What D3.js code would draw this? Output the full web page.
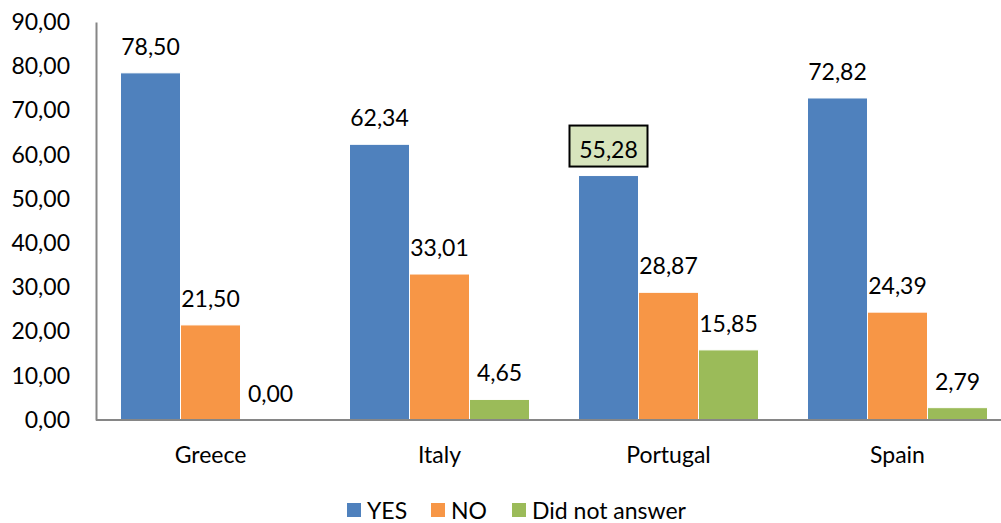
<!DOCTYPE html>
<html>
<head>
<meta charset="utf-8">
<script src="https://cdn.jsdelivr.net/npm/d3@7"></script>
<style>
  html, body { margin: 0; padding: 0; background: #fff; }
  svg { display: block; font-family: Lato, "Open Sans", "Liberation Sans", sans-serif; }
</style>
</head>
<body>
<svg id="chart" width="1001" height="523"></svg>
<script>
const countries = ["Greece", "Italy", "Portugal", "Spain"];
const seriesNames = ["YES", "NO", "Did not answer"];
const yesValues = [78.50, 62.34, 55.28, 72.82];
const noValues = [21.50, 33.01, 28.87, 24.39];
const noAnswerValues = [0.00, 4.65, 15.85, 2.79];
const yTicks = [0, 10, 20, 30, 40, 50, 60, 70, 80, 90];
const colors = ["#4F81BD", "#F79646", "#9BBB59"];

const seriesValues = [yesValues, noValues, noAnswerValues];
const fmt = v => v.toFixed(2).replace(".", ",");
const fontSize = 23;

const svg = d3.select("#chart");
const plotLeft = 96, plotRight = 1012, plotTop = 22, plotBottom = 420;

const x0 = d3.scaleBand().domain(countries).range([plotLeft, plotRight]).paddingInner(0).paddingOuter(0);
const x1 = d3.scaleBand().domain(seriesNames).range([24.5, x0.bandwidth() - 24.5]).padding(0);
const y = d3.scaleLinear().domain([0, 90]).range([plotBottom, plotTop]);

// Y axis
const yAxis = svg.append("g").attr("transform", `translate(${plotLeft},0)`)
  .call(d3.axisLeft(y).tickValues(yTicks).tickFormat(fmt).tickSize(0).tickPadding(26));
yAxis.select(".domain").attr("stroke", "#868686").attr("stroke-width", 2);
yAxis.selectAll("text").attr("font-size", fontSize).attr("fill", "#000").attr("font-family", "Lato, sans-serif");

// Bars
const groups = svg.append("g").selectAll("g").data(countries).join("g")
  .attr("transform", d => `translate(${x0(d)},0)`);

seriesNames.forEach((s, si) => {
  groups.append("rect")
    .attr("x", x1(s))
    .attr("width", x1.bandwidth())
    .attr("y", (d, i) => y(seriesValues[si][i]))
    .attr("height", (d, i) => y(0) - y(seriesValues[si][i]))
    .attr("fill", colors[si])
    .attr("stroke", "#fff")
    .attr("stroke-width", 1);
});

// X axis baseline
svg.append("line")
  .attr("x1", plotLeft).attr("x2", 1001)
  .attr("y1", y(0)).attr("y2", y(0))
  .attr("stroke", "#868686").attr("stroke-width", 2);

// Value labels
seriesNames.forEach((s, si) => {
  groups.each(function(d, i) {
    const g = d3.select(this);
    const v = seriesValues[si][i];
    const cx = x1(s) + x1.bandwidth() / 2;
    const ty = y(v) - 18;
    if (d === "Portugal" && s === "YES") {
      g.append("rect")
        .attr("x", cx - 39).attr("y", ty - 32)
        .attr("width", 78).attr("height", 41)
        .attr("fill", "#D7E4BD").attr("stroke", "#000").attr("stroke-width", 2);
    }
    g.append("text")
      .attr("x", cx).attr("y", ty)
      .attr("text-anchor", "middle")
      .attr("font-size", fontSize)
      .attr("fill", "#000")
      .text(fmt(v));
  });
});

// Category labels
svg.append("g").selectAll("text").data(countries).join("text")
  .attr("x", d => x0(d) + x0.bandwidth() / 2)
  .attr("y", 463)
  .attr("text-anchor", "middle")
  .attr("font-size", fontSize)
  .attr("fill", "#000")
  .text(d => d);

// Legend
const legendX = [347, 431, 512];
const legend = svg.append("g").selectAll("g").data(seriesNames).join("g")
  .attr("transform", (d, i) => `translate(${legendX[i]},503)`);
legend.append("rect").attr("width", 14).attr("height", 14).attr("fill", (d, i) => colors[i]);
legend.append("text").attr("x", 20).attr("y", 16).attr("font-size", fontSize).attr("fill", "#000").text(d => d);
</script>
</body>
</html>
